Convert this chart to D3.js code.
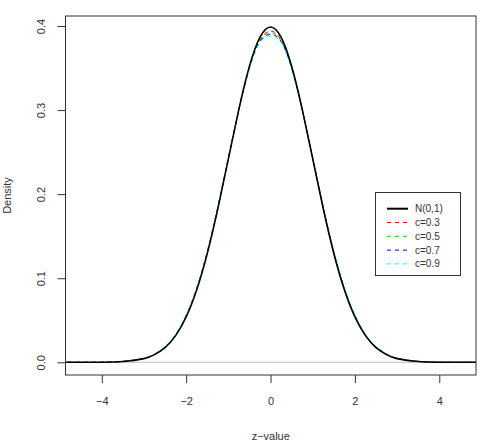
<!DOCTYPE html>
<html>
<head>
<meta charset="utf-8">
<script src="https://cdn.jsdelivr.net/npm/d3@7"></script>
<style>
  body { margin: 0; background: #fff; }
  svg { display: block; font-family: "Liberation Sans", Arial, sans-serif; }
</style>
</head>
<body>
<div id="chart"></div>
<script>
const zValues = [-5, -4.5, -4, -3.5, -3, -2.75, -2.5, -2.25, -2, -1.75, -1.5, -1.25, -1, -0.75, -0.5, -0.25,
  0, 0.25, 0.5, 0.75, 1, 1.25, 1.5, 1.75, 2, 2.25, 2.5, 2.75, 3, 3.5, 4, 4.5, 5];

const densN01 = [0, 0, 0.0001, 0.0009, 0.0044, 0.0091, 0.0175, 0.0317, 0.0540, 0.0863, 0.1295, 0.1826, 0.2420, 0.3011, 0.3521, 0.3867,
  0.3989, 0.3867, 0.3521, 0.3011, 0.2420, 0.1826, 0.1295, 0.0863, 0.0540, 0.0317, 0.0175, 0.0091, 0.0044, 0.0009, 0.0001, 0, 0];
const densC03 = [0, 0, 0.0001, 0.0010, 0.0046, 0.0094, 0.0180, 0.0323, 0.0548, 0.0872, 0.1305, 0.1835, 0.2425, 0.3010, 0.3510, 0.3835,
  0.3940, 0.3835, 0.3510, 0.3010, 0.2425, 0.1835, 0.1305, 0.0872, 0.0548, 0.0323, 0.0180, 0.0094, 0.0046, 0.0010, 0.0001, 0, 0];
const densC05 = [0, 0, 0.0001, 0.0010, 0.0047, 0.0095, 0.0182, 0.0326, 0.0551, 0.0876, 0.1309, 0.1838, 0.2427, 0.3008, 0.3505, 0.3825,
  0.3920, 0.3825, 0.3505, 0.3008, 0.2427, 0.1838, 0.1309, 0.0876, 0.0551, 0.0326, 0.0182, 0.0095, 0.0047, 0.0010, 0.0001, 0, 0];
const densC07 = [0, 0, 0.0001, 0.0011, 0.0048, 0.0097, 0.0184, 0.0329, 0.0555, 0.0880, 0.1313, 0.1842, 0.2429, 0.3006, 0.3500, 0.3815,
  0.3900, 0.3815, 0.3500, 0.3006, 0.2429, 0.1842, 0.1313, 0.0880, 0.0555, 0.0329, 0.0184, 0.0097, 0.0048, 0.0011, 0.0001, 0, 0];
const densC09 = [0, 0, 0.0001, 0.0011, 0.0049, 0.0098, 0.0186, 0.0332, 0.0558, 0.0884, 0.1317, 0.1845, 0.2431, 0.3004, 0.3495, 0.3805,
  0.3880, 0.3805, 0.3495, 0.3004, 0.2431, 0.1845, 0.1317, 0.0884, 0.0558, 0.0332, 0.0186, 0.0098, 0.0049, 0.0011, 0.0001, 0, 0];

const seriesNames = ["N(0,1)", "c=0.3", "c=0.5", "c=0.7", "c=0.9"];
const seriesColors = ["#000000", "#ff0000", "#00cd00", "#0000ff", "#00ffff"];
const xTicks = [-4, -2, 0, 2, 4];
const yTicks = [0.0, 0.1, 0.2, 0.3, 0.4];

(() => {
  const width = 488, height = 441;
  const box = { left: 65.5, right: 476, top: 16, bottom: 375 };

  const svg = d3.select("#chart").append("svg")
    .attr("width", width)
    .attr("height", height);

  const x = d3.scaleLinear().domain([-4.86, 4.87]).range([box.left, box.right]);
  const y = d3.scaleLinear().domain([-0.0151, 0.4119]).range([box.bottom, box.top]);

  svg.append("clipPath").attr("id", "clip")
    .append("rect")
    .attr("x", box.left).attr("y", box.top)
    .attr("width", box.right - box.left).attr("height", box.bottom - box.top);

  // grey reference line at zero
  svg.append("line")
    .attr("x1", box.left).attr("x2", box.right)
    .attr("y1", y(0)).attr("y2", y(0))
    .attr("stroke", "#bebebe")
    .attr("stroke-width", 1);

  const allSeries = [densN01, densC03, densC05, densC07, densC09];
  const line = d3.line()
    .x((d, i) => x(zValues[i]))
    .y(d => y(d))
    .curve(d3.curveNatural);

  // dashed curves first, N(0,1) on top
  const drawOrder = [1, 2, 3, 4, 0];
  svg.append("g").attr("clip-path", "url(#clip)")
    .selectAll("path")
    .data(drawOrder)
    .join("path")
    .attr("d", k => line(allSeries[k]))
    .attr("fill", "none")
    .attr("stroke", k => seriesColors[k])
    .attr("stroke-width", k => k === 0 ? 1.6 : 1)
    .attr("stroke-dasharray", k => k === 0 ? null : "4,4");

  // plot box
  svg.append("rect")
    .attr("x", box.left).attr("y", box.top)
    .attr("width", box.right - box.left).attr("height", box.bottom - box.top)
    .attr("fill", "none")
    .attr("stroke", "#333")
    .attr("stroke-width", 1);

  // axes
  const xAxis = svg.append("g")
    .attr("transform", `translate(0,${box.bottom})`)
    .call(d3.axisBottom(x).tickValues(xTicks).tickSize(8).tickPadding(14)
      .tickFormat(d => d3.format("d")(d).replace("-", "\u2212")));
  xAxis.select(".domain").remove();

  const yAxis = svg.append("g")
    .attr("transform", `translate(${box.left},0)`)
    .call(d3.axisLeft(y).tickValues(yTicks).tickSize(8).tickFormat(d3.format(".1f")));
  yAxis.select(".domain").remove();
  yAxis.selectAll(".tick text")
    .attr("x", null).attr("dy", null)
    .attr("text-anchor", "middle")
    .attr("transform", "translate(-21,0) rotate(-90)");

  svg.selectAll(".tick line").attr("stroke", "#333");
  svg.selectAll(".tick text")
    .attr("font-size", 11)
    .attr("font-family", "Liberation Sans, Arial, sans-serif")
    .attr("fill", "#333");

  svg.append("text")
    .attr("x", (box.left + box.right) / 2)
    .attr("y", 440)
    .attr("text-anchor", "middle")
    .attr("font-size", 11)
    .attr("fill", "#333")
    .text("z\u2212value");

  svg.append("text")
    .attr("transform", `translate(11,${(box.top + box.bottom) / 2}) rotate(-90)`)
    .attr("text-anchor", "middle")
    .attr("font-size", 11)
    .attr("fill", "#333")
    .text("Density");

  // legend
  const legend = svg.append("g");
  legend.append("rect")
    .attr("x", 375.5).attr("y", 192.5)
    .attr("width", 85).attr("height", 83)
    .attr("fill", "#fff")
    .attr("stroke", "#333");

  const rows = legend.selectAll("g.row")
    .data(seriesNames)
    .join("g")
    .attr("class", "row")
    .attr("transform", (d, i) => `translate(0,${208.7 + i * 13.8})`);

  rows.append("line")
    .attr("x1", 387).attr("x2", 408)
    .attr("stroke", (d, i) => seriesColors[i])
    .attr("stroke-width", (d, i) => i === 0 ? 2 : 1)
    .attr("stroke-dasharray", (d, i) => i === 0 ? null : "4,4");

  rows.append("text")
    .attr("x", 415)
    .attr("dy", "0.35em")
    .attr("font-size", 10)
    .attr("fill", "#333")
    .text(d => d);
})();
</script>
</body>
</html>
